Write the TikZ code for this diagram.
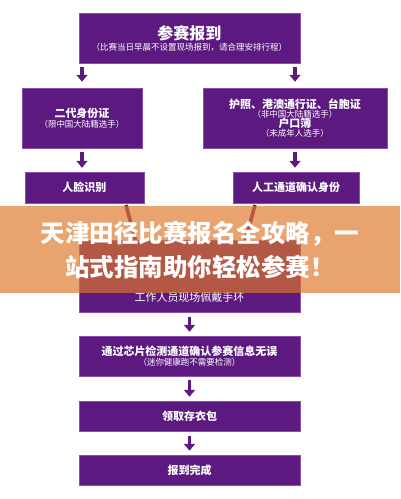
\documentclass[tikz,border=0pt]{standalone}
\usepackage{fontspec}
\newfontfamily\cjk{Noto Sans CJK SC}
\usetikzlibrary{arrows.meta}
\definecolor{purp}{RGB}{92,26,128}
\definecolor{purpedge}{RGB}{140,80,170}
\definecolor{bandc}{RGB}{222,119,39}
\tikzset{
  box/.style={fill=purp, draw=purpedge, line width=0.5pt, text=white, inner sep=0pt, align=center, font=\cjk},
  arr/.style={draw=purp, line width=3.6pt, -{Triangle[width=11pt,length=7pt]}},
}
\newcommand{\sm}{\fontsize{8.5}{11}\selectfont\mdseries}
\newcommand{\bd}{\fontsize{11}{13.5}\selectfont\bfseries}
\begin{document}
\begin{tikzpicture}[x=1pt,y=-1pt]
\useasboundingbox[fill=white] (0,0) rectangle (400,499);
% boxes
\node[box, minimum width=221pt, minimum height=50pt] (top) at (189.5,38)
  {{\fontsize{16}{19}\selectfont\bfseries 参赛报到}\\[-1pt]{\sm （比赛当日早晨不设置现场报到，请合理安排行程）}};
\node[box, minimum width=120pt, minimum height=60pt] (l2) at (82,118)
  {{\bd 二代身份证}\\[-2pt]{\sm （限中国大陆籍选手）}};
\node[box, minimum width=184pt, minimum height=60pt] (r2) at (295,118)
  {{\bd 护照、港澳通行证、台胞证}\\[-2.5pt]{\sm （非中国大陆籍选手）}\\[-2.5pt]{\bd 户口簿}\\[-2.5pt]{\sm （未成年人选手）}};
\node[box, minimum width=119pt, minimum height=31pt] (l3) at (84.5,187.5) {\bd 人脸识别};
\node[box, minimum width=126pt, minimum height=31pt] (r3) at (296,187.5) {\bd 人工通道确认身份};
\node[box, minimum width=221pt, minimum height=72pt] (mid) at (189.5,276) {};
\node[font=\cjk\fontsize{11}{13}\selectfont, text=white] (midt) at (189.5,297) {工作人员现场佩戴手环};
\node[box, minimum width=221pt, minimum height=40pt] (b1) at (189.5,356)
  {{\bd 通过芯片检测通道确认参赛信息无误}\\[-2pt]{\sm （迷你健康跑不需要检测）}};
\node[box, minimum width=221pt, minimum height=30pt] (b2) at (189.5,416) {\bd 领取存衣包};
\node[box, minimum width=221pt, minimum height=30pt] (b3) at (189.5,470) {\bd 报到完成};
% arrows
\draw[arr] ([yshift=-4pt]l2.north |- top.south) -- ([yshift=6pt]l2.north);
\draw[arr] ([yshift=-4pt]r2.north |- top.south) -- ([yshift=6pt]r2.north);
\draw[arr] ([yshift=-4pt]l2.south) -- ([yshift=4pt]l2.south |- l3.north);
\draw[arr] ([yshift=-4pt]r2.south) -- ([yshift=4pt]r2.south |- r3.north);
\coordinate (la) at (126,205);
\coordinate (ra) at (255,205);
\draw[arr] (la) -- ([xshift=-49pt,yshift=-19pt]mid.north);
\draw[arr] (ra) -- ([xshift=51pt,yshift=-19pt]mid.north);
\draw[arr] ([yshift=-5pt]mid.south) -- ([yshift=4pt]b1.north);
\draw[arr] ([yshift=-4pt]b1.south) -- ([yshift=4pt]b2.north);
\draw[arr] ([yshift=-5pt]b2.south) -- ([yshift=4pt]b3.north);
% band
\fill[bandc, opacity=0.67] (0,206) rectangle (400,293);
\node[text=white, font=\cjk\fontsize{24.5}{34}\selectfont\bfseries, align=center, inner sep=0pt] (band) at (200,250)
  {天津田径比赛报名全攻略，一\\站式指南助你轻松参赛！};
\end{tikzpicture}
\end{document}
